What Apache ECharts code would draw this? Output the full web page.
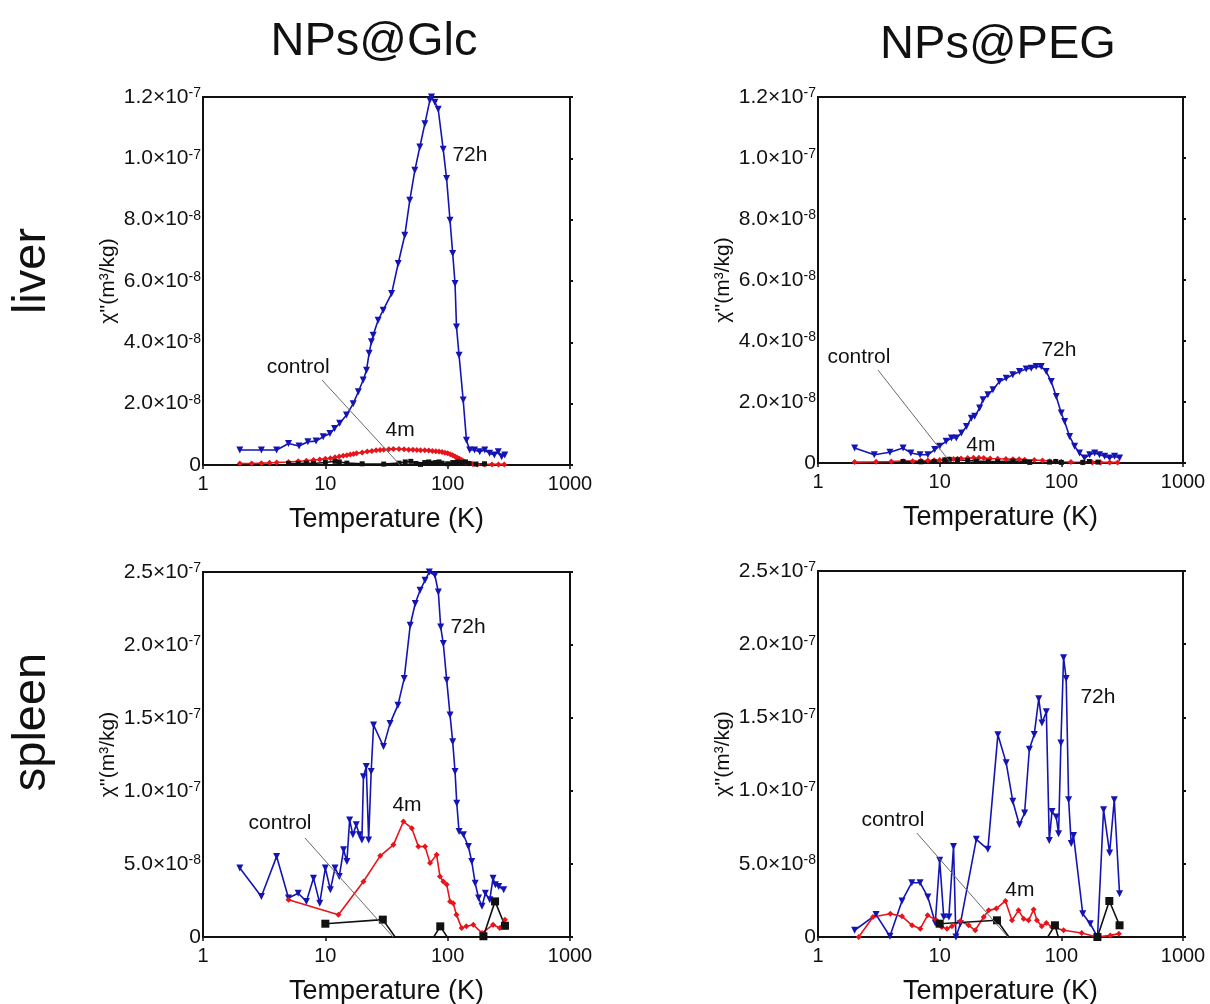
<!DOCTYPE html>
<html>
<head>
<meta charset="utf-8">
<script src="https://cdn.jsdelivr.net/npm/echarts@6/dist/echarts.min.js"></script>
<style>
  html, body { margin: 0; background: #fff; }
  #main { width: 1210px; height: 1004px; }
</style>
</head>
<body>
<div id="main"></div>
<script>
// chi'' values in units of 1e-8 m3/kg, temperature in K  -> [T, chi]
const liverGlc72h = [[2,0.49],[3,0.49],[4,0.49],[5,0.7],[6.1,0.62],[7.2,0.76],[8.4,0.78],[9.6,0.92],[10.9,1.03],[11.9,1.19],[13.1,1.36],[14.9,1.63],[16.9,2.0],[18.6,2.39],[20.4,2.77],[21.7,3.09],[22.8,3.64],[23.8,4.02],[24.6,4.23],[27,4.72],[29.7,5.05],[34.8,5.59],[39.4,6.57],[44.6,7.49],[49,8.63],[53.9,9.61],[59.2,10.37],[65.1,11.13],[71.5,11.89],[73.8,12.0],[78.6,11.83],[83.7,11.6],[91.9,10.3],[98,9.34],[104.5,7.98],[109.9,6.9],[114.9,5.92],[118.1,4.5],[123.9,3.58],[133.9,2.12],[142.4,0.81],[151.4,0.49],[166,0.49],[183,0.43],[201,0.49],[220,0.38],[241,0.33],[259,0.43],[276,0.27],[293,0.33]];
const liverGlc4m = [[2,0.05],[2.5,0.05],[3,0.06],[3.5,0.07],[4,0.08],[5,0.1],[6,0.12],[7,0.14],[8,0.16],[9,0.18],[10,0.2],[11,0.22],[12,0.25],[13,0.28],[14,0.3],[15,0.32],[16,0.34],[17,0.36],[18,0.38],[20,0.41],[22,0.44],[24,0.46],[26,0.48],[28,0.49],[30,0.5],[33,0.51],[36,0.52],[40,0.52],[44,0.51],[48,0.5],[52,0.5],[56,0.49],[60,0.48],[65,0.48],[70,0.47],[75,0.46],[80,0.45],[85,0.44],[90,0.42],[95,0.4],[100,0.38],[105,0.35],[110,0.32],[115,0.28],[120,0.24],[125,0.2],[130,0.16],[135,0.12],[140,0.09],[150,0.05],[160,0.03],[175,0.02],[200,0.02],[230,0.02],[260,0.02],[290,0.02]];
const liverGlcCtrl = [[5,0.05],[6,0.05],[7,0.06],[8,0.05],[10,0.08],[12,0.12],[13,0.1],[15,0.06],[20,0.04],[30,0.03],[40,0.06],[45,0.1],[50,0.12],[55,0.05],[60,0.02],[65,0.08],[70,0.1],[75,0.06],[80,0.08],[85,0.1],[90,0.06],[100,0.04],[110,0.08],[120,0.1],[130,0.08],[140,0.1],[150,0.05],[170,0.03],[200,0.04]];

const liverPeg72h = [[2,0.49],[2.9,0.27],[3.9,0.35],[5,0.49],[5.8,0.33],[6.9,0.27],[8,0.27],[9.1,0.44],[10,0.55],[11.3,0.71],[12.5,0.82],[13.7,0.82],[15.1,0.98],[16.6,1.2],[18.2,1.47],[19.4,1.53],[21.3,1.8],[22.7,2.07],[24.9,2.24],[27.4,2.4],[31,2.67],[35.2,2.78],[39.9,2.89],[45.3,3.0],[51.4,3.08],[56.6,3.11],[62.1,3.16],[68.4,3.16],[75.1,3.0],[82.6,2.67],[90.8,2.18],[99.8,1.64],[106.4,1.36],[116.9,0.87],[128.5,0.55],[141,0.33],[155,0.16],[171,0.27],[188,0.33],[206,0.27],[227,0.22],[249,0.16],[274,0.22],[301,0.16]];
const liverPeg4m = [[2,0.03],[3,0.04],[4,0.05],[5,0.06],[6,0.06],[7,0.07],[8,0.08],[9,0.09],[10,0.1],[11,0.11],[12,0.12],[13,0.13],[14,0.14],[15,0.15],[17,0.16],[19,0.17],[21,0.17],[23,0.16],[26,0.15],[30,0.14],[35,0.13],[40,0.12],[45,0.12],[50,0.11],[60,0.1],[70,0.08],[80,0.06],[90,0.05],[100,0.04],[120,0.03],[150,0.02],[180,0.02],[210,0.02],[250,0.02],[290,0.02]];
const liverPegCtrl = [[5,0.05],[7,0.04],[9,0.05],[11,0.1],[12,0.12],[14,0.1],[17,0.08],[20,0.06],[25,0.05],[30,0.05],[40,0.06],[50,0.05],[55,0.02],[60,-0.02],[70,-0.05],[80,0.03],[90,0.05],[100,0.02],[120,-0.03],[150,0.02],[170,0.05],[200,0.03]];

const spleenGlc72h = [[2,4.72],[3,2.78],[4,5.52],[5,2.67],[6,3.0],[7,2.44],[8,4.03],[9,2.32],[10,4.72],[11,3.24],[12,4.72],[13,4.15],[14.1,5.97],[15,5.17],[15.8,8.02],[16.8,7.0],[17.9,7.68],[19,7.0],[19.9,6.65],[20.5,10.98],[21.6,11.67],[22.6,6.65],[23.7,11.33],[24.8,14.52],[29.9,13.04],[33.8,14.63],[39.2,15.88],[44.1,17.7],[49.4,21.35],[54.3,22.84],[59.5,23.75],[65.3,24.43],[70.8,25.0],[78.7,24.77],[83.9,23.63],[87.7,21.24],[92.1,20.1],[98.2,17.59],[104.6,15.2],[109.9,13.38],[114.9,11.33],[118.7,9.16],[123.9,7.22],[134.5,7.0],[147.7,6.2],[157.4,5.17],[167.8,3.69],[178.9,2.67],[190.8,2.1],[203.4,3.0],[220.7,2.55],[234.9,4.03],[245.4,3.58],[261.4,3.46],[286.9,3.24]];
const spleenGlc4m = [[5,2.55],[12.8,1.53],[20.5,3.8],[28.1,5.56],[36,6.31],[43.5,7.91],[50.9,7.45],[57.6,6.2],[65.3,6.2],[71.8,5.06],[81.2,5.63],[86.5,4.15],[92.1,3.8],[98.2,3.6],[104.6,2.44],[111,2.32],[118,1.53],[130,0.62],[142,0.73],[162,0.84],[191,0.27],[235,0.84],[267,0.62],[294,1.19]];
const spleenGlcCtrl = [[10,0.91],[29.5,1.19],[55,-2],[87,0.73],[130,-1.5],[196,0.05],[244,2.44],[294,0.77]];

const spleenPeg72h = [[2,0.46],[3,1.53],[3.9,0.05],[4.9,2.46],[5.9,3.71],[6.9,3.71],[8,2.73],[9.2,0.96],[10,5.24],[10.8,1.37],[11.9,1.37],[13,6.19],[13.6,0],[14.8,0.91],[20,6.67],[24.9,5.99],[30.1,13.82],[35.2,11.91],[39.9,9.27],[45.2,7.67],[49.9,8.47],[54.6,12.82],[59.9,13.84],[65.2,16.28],[69.3,14.62],[75.3,15.39],[79.6,6.6],[83.8,8.58],[90.8,8.2],[94.9,7.06],[99.2,13.25],[104.3,19.08],[109.6,17.65],[114.8,9.38],[120.6,6.38],[125.9,6.94],[150,1.59],[172.6,0.91],[198.3,0],[222.4,8.7],[249.3,5.74],[272.4,9.38],[301,2.96]];
const spleenPeg4m = [[2.16,0],[2.83,1.37],[3.93,1.59],[4.9,1.41],[5.93,0.8],[6.93,0.57],[7.96,1.48],[9.4,1.14],[10.4,0.68],[11.5,0.57],[12.6,0.73],[14.8,1.09],[17.3,0.8],[19.6,0.46],[23,1.37],[25.3,1.82],[29.2,1.94],[34.7,2.46],[39.3,1.14],[44.5,1.82],[49,1.25],[53.8,1.14],[59.2,1.87],[63,1.14],[69,0.73],[75.3,0.96],[83.8,0.68],[104.3,0.46],[147,0.27],[195,0],[253,0.11],[297,0.23]];
const spleenPegCtrl = [[10,0.91],[29.6,1.14],[55,-2],[88.6,0.8],[120,-3],[198,0],[248,2.46],[301,0.8]];

// annotation text [label, T, chi] and leader line [[T, chi], [T, chi]]
const liverGlcNotes = [['control', 6.0, 3.2], ['4m', 40.8, 1.14], ['72h', 152, 10.1]];
const liverGlcLeader = [[9.4, 2.77], [40.8, 0]];
const liverPegNotes = [['control', 2.17, 3.48], ['4m', 21.8, 0.59], ['72h', 95.5, 3.7]];
const liverPegLeader = [[3.11, 3.05], [12.2, 0.03]];
const spleenGlcNotes = [['control', 4.26, 7.8], ['4m', 46.5, 9.04], ['72h', 147, 21.2]];
const spleenGlcLeader = [[6.82, 6.78], [35.8, 0]];
const spleenPegNotes = [['control', 4.13, 8.0], ['4m', 45.7, 3.2], ['72h', 200, 16.4]];
const spleenPegLeader = [[6.5, 7.1], [36.4, 0]];

const colTitles = ['NPs@Glc', 'NPs@PEG'];
const rowTitles = ['liver', 'spleen'];

const FONT = '"Liberation Sans", Arial, Helvetica, sans-serif';
const INK = '#111';

const panels = [
  { grid: { left: 203, top: 97, width: 367, height: 368 }, ymax: 12, step: 2, s72: liverGlc72h, s4: liverGlc4m, sc: liverGlcCtrl, notes: liverGlcNotes, leader: liverGlcLeader, sq: 5 },
  { grid: { left: 818, top: 97, width: 365, height: 366 }, ymax: 12, step: 2, s72: liverPeg72h, s4: liverPeg4m, sc: liverPegCtrl, notes: liverPegNotes, leader: liverPegLeader, sq: 5 },
  { grid: { left: 203, top: 572, width: 367, height: 365 }, ymax: 25, step: 5, s72: spleenGlc72h, s4: spleenGlc4m, sc: spleenGlcCtrl, notes: spleenGlcNotes, leader: spleenGlcLeader, sq: 8 },
  { grid: { left: 818, top: 571, width: 365, height: 366 }, ymax: 25, step: 5, s72: spleenPeg72h, s4: spleenPeg4m, sc: spleenPegCtrl, notes: spleenPegNotes, leader: spleenPegLeader, sq: 8 }
];

// 2 -> 2.0x10^-8, 12 -> 1.2x10^-7
const chiLabel = (v) => {
  if (Math.abs(v) < 1e-9) return '{m|0}';
  const exp = v >= 10 ? 7 : 8;
  const mant = v >= 10 ? v / 10 : v;
  return `{m|${mant.toFixed(1)}×10}{s|-${exp}}`;
};

const grids = [], xAxes = [], yAxes = [], series = [];

panels.forEach((p, i) => {
  grids.push(Object.assign({ show: true, borderColor: INK, borderWidth: 2, backgroundColor: 'transparent', outerBoundsMode: 'none', containLabel: false }, p.grid));

  xAxes.push({
    gridIndex: i, type: 'log', logBase: 10, min: 1, max: 1000,
    name: 'Temperature (K)', nameLocation: 'middle', nameGap: 41,
    nameTextStyle: { fontFamily: FONT, fontSize: 27, color: INK },
    axisLine: { show: true, onZero: false, lineStyle: { color: INK, width: 2 } },
    axisTick: { show: true, length: 4, lineStyle: { color: INK, width: 1.5 } },
    minorTick: { show: false },
    splitLine: { show: false },
    axisLabel: { fontFamily: FONT, fontSize: 20, color: INK, margin: 9, formatter: v => String(Math.round(v)) }
  });

  yAxes.push({
    gridIndex: i, type: 'value', min: 0, max: p.ymax, interval: p.step,
    name: "χ''(m³/kg)", nameLocation: 'middle', nameGap: 84, nameRotate: 90,
    nameTextStyle: { fontFamily: FONT, fontSize: 21, color: INK },
    axisLine: { show: true, lineStyle: { color: INK, width: 2 } },
    axisTick: { show: false },
    splitLine: { show: false },
    axisLabel: {
      margin: 2, formatter: chiLabel,
      rich: {
        m: { fontFamily: FONT, fontSize: 21, color: INK },
        s: { fontFamily: FONT, fontSize: 14, color: INK, verticalAlign: 'top' }
      }
    }
  });
  yAxes.push({
    gridIndex: i, type: 'value', position: 'right', min: 0, max: p.ymax, interval: p.step,
    axisLine: { show: true, lineStyle: { color: INK, width: 2 } },
    axisTick: { show: true, inside: false, length: 3, lineStyle: { color: INK, width: 2 } },
    axisLabel: { show: false },
    splitLine: { show: false }
  });

  const base = { type: 'line', xAxisIndex: i, yAxisIndex: i * 2, clip: true, animation: false, silent: true, showSymbol: true };

  series.push(Object.assign({}, base, {
    name: '72h', data: p.s72, color: '#1414b4',
    lineStyle: { width: 1.6, color: '#1414b4' },
    symbol: 'triangle', symbolRotate: 180, symbolSize: 7,
    itemStyle: { color: '#1414b4' }
  }));
  series.push(Object.assign({}, base, {
    name: '4m', data: p.s4, color: '#e8141b',
    lineStyle: { width: 1.6, color: '#e8141b' },
    symbol: 'diamond', symbolSize: 6,
    itemStyle: { color: '#e8141b' }
  }));
  series.push(Object.assign({}, base, {
    name: 'control', data: p.sc, color: INK,
    lineStyle: { width: 1.6, color: INK },
    symbol: 'rect', symbolSize: p.sq,
    itemStyle: { color: INK },
    markLine: {
      silent: true, animation: false, symbol: ['none', 'none'],
      lineStyle: { color: '#6a6a6a', width: 1, type: 'solid' },
      label: { show: false },
      data: [[{ coord: p.leader[0] }, { coord: p.leader[1] }]]
    },
    markPoint: {
      silent: true, animation: false, symbol: 'circle', symbolSize: 0,
      label: { show: true, position: 'inside', formatter: '{b}', fontFamily: FONT, fontSize: 21, color: INK },
      data: p.notes.map(n => ({ name: n[0], coord: [n[1], n[2]] }))
    }
  }));
});

const graphic = [
  { type: 'text', x: 374, y: 42, style: { text: colTitles[0], font: `47px ${FONT}`, fill: INK, textAlign: 'center', textVerticalAlign: 'middle' } },
  { type: 'text', x: 998, y: 45, style: { text: colTitles[1], font: `47px ${FONT}`, fill: INK, textAlign: 'center', textVerticalAlign: 'middle' } },
  { type: 'text', x: 32, y: 271, rotation: Math.PI / 2, style: { text: rowTitles[0], font: `47px ${FONT}`, fill: INK, textAlign: 'center', textVerticalAlign: 'middle' } },
  { type: 'text', x: 32, y: 722, rotation: Math.PI / 2, style: { text: rowTitles[1], font: `47px ${FONT}`, fill: INK, textAlign: 'center', textVerticalAlign: 'middle' } }
];

const chart = echarts.init(document.getElementById('main'), null, { renderer: 'canvas' });
chart.setOption({
  backgroundColor: '#fff',
  animation: false,
  grid: grids,
  xAxis: xAxes,
  yAxis: yAxes,
  series: series,
  graphic: graphic
});
</script>
</body>
</html>
